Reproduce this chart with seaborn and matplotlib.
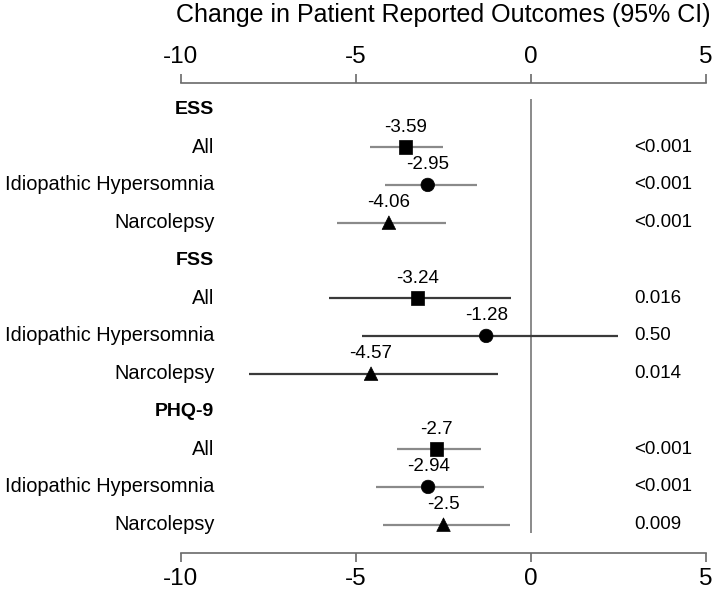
import numpy as np
import pandas as pd
import matplotlib
matplotlib.use("Agg")
import matplotlib.pyplot as plt
import seaborn as sns

# data
scales = ["ESS", "FSS", "PHQ-9"]
groups = ["All", "Idiopathic Hypersomnia", "Narcolepsy"]
estimates = [-3.59, -2.95, -4.06, -3.24, -1.28, -4.57, -2.7, -2.94, -2.5]
ci_low = [-4.6, -4.18, -5.54, -5.76, -4.84, -8.07, -3.82, -4.42, -4.22]
ci_high = [-2.52, -1.55, -2.44, -0.57, 2.49, -0.93, -1.42, -1.35, -0.6]
p_values = ["<0.001", "<0.001", "<0.001", "0.016", "0.50", "0.014", "<0.001", "<0.001", "0.009"]
est_labels = ["-3.59", "-2.95", "-4.06", "-3.24", "-1.28", "-4.57", "-2.7", "-2.94", "-2.5"]
ci_colors = {"ESS": "#8a8a8a", "FSS": "#3a3a3a", "PHQ-9": "#8a8a8a"}

sns.set_style("white", {"text.color": "black", "xtick.color": "black"})
plt.rcParams['font.family'] = ['Liberation Sans', 'DejaVu Sans']

# build long table: each scale gets a header row then 3 group rows
rows = []
k = 0
for i, sc in enumerate(scales):
    for j, g in enumerate(groups):
        rows.append({"scale": sc, "group": g, "row": i * 4 + j + 1,
                     "est": estimates[k], "lo": ci_low[k], "hi": ci_high[k],
                     "p": p_values[k], "lab": est_labels[k]})
        k += 1
df = pd.DataFrame(rows)

fig = plt.figure(figsize=(7.14, 5.92), dpi=100)
ax = fig.add_axes([181 / 714, 1 - 553 / 592, 525 / 714, 470 / 592])

# confidence intervals
for _, r in df.iterrows():
    ax.hlines(r["row"], r["lo"], r["hi"], color=ci_colors[r["scale"]], lw=1.6, zorder=1)

sns.scatterplot(data=df, x="est", y="row", style="group",
                markers={"All": "s", "Idiopathic Hypersomnia": "o", "Narcolepsy": "^"},
                color="black", s=95, edgecolor="black", linewidth=0.5,
                legend=False, ax=ax, zorder=3)

# zero reference line
ax.vlines(0, -0.27, 11.22, color="#8a8a8a", lw=1.4, zorder=0)

for _, r in df.iterrows():
    ax.text(r["est"], r["row"] - 0.53, r["lab"], ha="center", va="center", fontsize=13.5)
    ax.text(-9.05, r["row"], r["group"], ha="right", va="center", fontsize=14.4)
    ax.text(2.95, r["row"], r["p"], ha="left", va="center", fontsize=13.5)

for i, sc in enumerate(scales):
    ax.text(-9.05, i * 4, sc, ha="right", va="center", fontsize=14, fontweight="bold")

ax.set_xlim(-10, 5)
ax.set_ylim(11.75, -0.7)
ax.set_xticks([-10, -5, 0, 5])
ax.set_xticklabels(["-10", "-5", "0", "5"])
ax.set_yticks([])
ax.set_xlabel("")
ax.set_ylabel("")
for side in ["left", "right"]:
    ax.spines[side].set_visible(False)
for side in ["top", "bottom"]:
    ax.spines[side].set_color("#6a6a6a")
    ax.spines[side].set_linewidth(1.2)
ax.tick_params(axis="x", top=True, bottom=True, labeltop=True, labelbottom=True,
               direction="out", length=6.5, width=1.2, color="#6a6a6a",
               labelsize=17.5, pad=4, labelcolor="black")

fig.text(443 / 714, 1 - 15 / 592, "Change in Patient Reported Outcomes (95% CI)",
         ha="center", va="center", fontsize=18)

fig.savefig("out.png", dpi=100)
